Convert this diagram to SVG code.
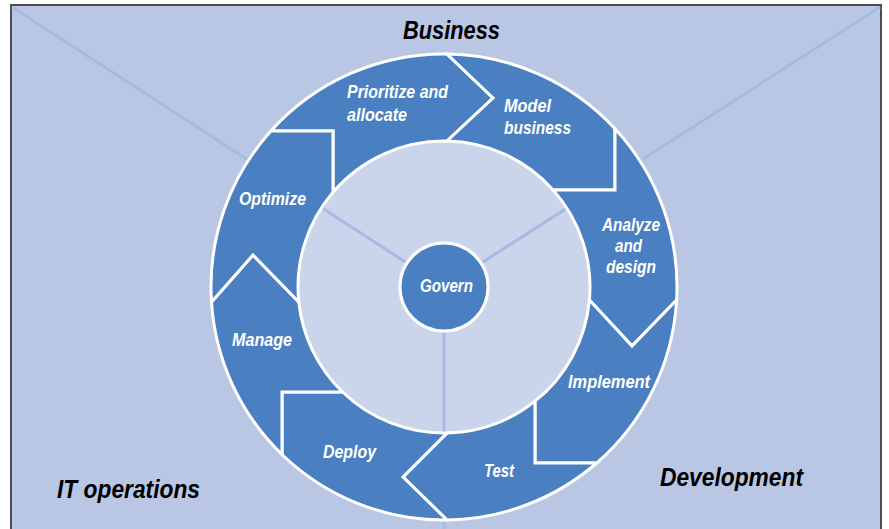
<svg xmlns="http://www.w3.org/2000/svg" width="889" height="529" viewBox="0 0 889 529">
<style>
.seg{fill:#4a80c1;stroke:#ffffff;stroke-width:3;stroke-linejoin:miter}
.lbl{font-family:"Liberation Sans",Arial,sans-serif;font-weight:bold;font-style:italic;font-size:18px;fill:#ffffff}
.ttl{font-family:"Liberation Sans",Arial,sans-serif;font-weight:bold;font-style:italic;font-size:26px;fill:#000000}
.guide{stroke:#a7bbe2;stroke-width:3;fill:none}
</style>
<rect x="0" y="0" width="889" height="529" fill="#ffffff"/>
<rect x="11" y="5" width="870" height="540" fill="#b9c7e5" stroke="#4d4d4d" stroke-width="2"/>
<circle cx="444" cy="287" r="146" fill="#cad5eb"/>
<g id="connectors">
<line class="guide" x1="12" y1="7" x2="444" y2="287"/>
<line class="guide" x1="880" y1="7" x2="444" y2="287"/>
<line class="guide" x1="444" y1="287" x2="444" y2="529"/>
</g>
<g id="prioritize">
<path class="seg" d="M270.9,131 A233,233 0 0 1 447,54 L493,98 L447,141 A146,146 0 0 0 333,192.2 L333,131 Z"/>
<text class="lbl" x="347" y="98" textLength="101" lengthAdjust="spacingAndGlyphs">Prioritize and</text>
<text class="lbl" x="347" y="121" textLength="60" lengthAdjust="spacingAndGlyphs">allocate</text>
</g>
<g id="model">
<path class="seg" d="M447,54 A233,233 0 0 1 615,128.7 L615,190 L553.1,190 A146,146 0 0 0 447,141 L493,98 Z"/>
<text class="lbl" x="504" y="112" textLength="47" lengthAdjust="spacingAndGlyphs">Model</text>
<text class="lbl" x="504" y="134" textLength="67" lengthAdjust="spacingAndGlyphs">business</text>
</g>
<g id="analyze">
<path class="seg" d="M615,128.7 A233,233 0 0 1 676.6,300 L632,346 L589.4,300 A146,146 0 0 0 553.1,190 L615,190 Z"/>
<text class="lbl" x="602" y="231" textLength="58" lengthAdjust="spacingAndGlyphs">Analyze</text>
<text class="lbl" x="615" y="252" textLength="27" lengthAdjust="spacingAndGlyphs">and</text>
<text class="lbl" x="606" y="273" textLength="50" lengthAdjust="spacingAndGlyphs">design</text>
</g>
<g id="implement">
<path class="seg" d="M676.6,300 A233,233 0 0 1 596.7,463 L535,463 L535,401.2 A146,146 0 0 0 589.4,300 L632,346 Z"/>
<text class="lbl" x="568" y="388" textLength="82" lengthAdjust="spacingAndGlyphs">Implement</text>
</g>
<g id="test">
<path class="seg" d="M596.7,463 A233,233 0 0 1 447,520 L403,477 L447,433 A146,146 0 0 0 535,401.2 L535,463 Z"/>
<text class="lbl" x="484" y="477" textLength="30" lengthAdjust="spacingAndGlyphs">Test</text>
</g>
<g id="deploy">
<path class="seg" d="M447,520 A233,233 0 0 1 282,454.5 L282,392 L342.6,392 A146,146 0 0 0 447,433 L403,477 Z"/>
<text class="lbl" x="323" y="458" textLength="53" lengthAdjust="spacingAndGlyphs">Deploy</text>
</g>
<g id="manage">
<path class="seg" d="M282,454.5 A233,233 0 0 1 211.5,302 L253,255 L298.8,302 A146,146 0 0 0 342.6,392 L282,392 Z"/>
<text class="lbl" x="232" y="346" textLength="60" lengthAdjust="spacingAndGlyphs">Manage</text>
</g>
<g id="optimize">
<path class="seg" d="M211.5,302 A233,233 0 0 1 270.9,131 L333,131 L333,192.2 A146,146 0 0 0 298.8,302 L253,255 Z"/>
<text class="lbl" x="239" y="205" textLength="67" lengthAdjust="spacingAndGlyphs">Optimize</text>
</g>
<g id="govern">
<circle cx="444" cy="287" r="44" fill="#4a80c1" stroke="#ffffff" stroke-width="3"/>
<text class="lbl" x="420" y="292" textLength="53" lengthAdjust="spacingAndGlyphs">Govern</text>
</g>
<g id="business">
<text class="ttl" x="403" y="39" textLength="97" lengthAdjust="spacingAndGlyphs">Business</text>
</g>
<g id="itops">
<text class="ttl" x="57" y="498" textLength="143" lengthAdjust="spacingAndGlyphs">IT operations</text>
</g>
<g id="development">
<text class="ttl" x="660" y="486" textLength="143" lengthAdjust="spacingAndGlyphs">Development</text>
</g>
</svg>
